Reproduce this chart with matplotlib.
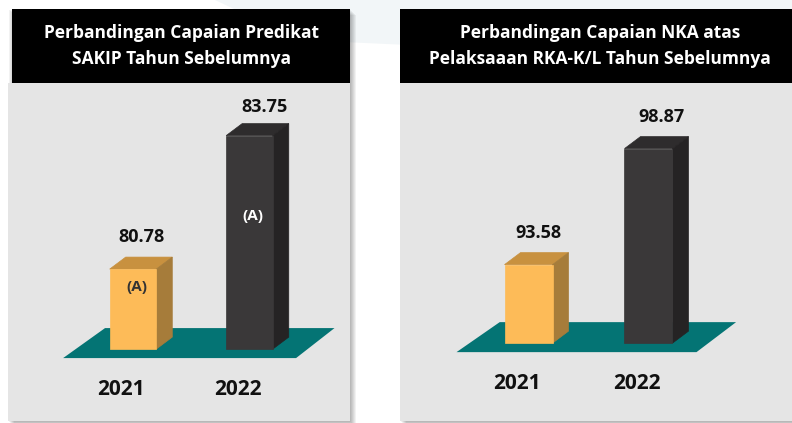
import numpy as np
import matplotlib.pyplot as plt
from matplotlib.patches import Polygon, Rectangle

plt.rcParams['font.family'] = ['Open Sans', 'DejaVu Sans']

years = ['2021', '2022']
sakip_scores = [80.78, 83.75]
sakip_grades = ['(A)', '(A)']
nka_scores = [93.58, 98.87]

W, H = 792, 423
front = ['#fdbb58', '#3a3839']
top_c = ['#c8913f', '#2e2c2d']
side_c = ['#a67c3a', '#252324']
floor_c = '#047474'
panel_c = '#e5e5e5'

fig = plt.figure(figsize=(W / 100, H / 100), dpi=100)
fig.patch.set_facecolor('white')

# faint backdrop shape at the top
fig.patches.append(Polygon([(215 / W, 1), (1, 1), (1, 1 - 45 / H), (560 / W, 1 - 52 / H),
                            (300 / W, 1 - 40 / H)], closed=True, transform=fig.transFigure,
                           facecolor='#f2f6f8', edgecolor='none', zorder=-3))


def fig_rect(x0, y0, x1, y1, **kw):
    r = Rectangle((x0 / W, 1 - y1 / H), (x1 - x0) / W, (y1 - y0) / H,
                  transform=fig.transFigure, **kw)
    fig.patches.append(r)
    return r


def draw_panel(box, bar_box, title, title_x, scores, grades=None, grade_offs=None,
               base=0, ylim=None, xlim=None, label_offs=None):
    x0, y0, x1, y1 = box
    # soft drop shadow
    for k in range(1, 7):
        fig_rect(x0 + k, bar_box[1] + k, x1 + k, y1 + k, facecolor='black',
                 alpha=0.05, edgecolor='none', zorder=-2)
    fig_rect(*bar_box, facecolor='black', edgecolor='none', zorder=2)
    fig.text(title_x / W, 1 - 46 / H, title, color='white', fontsize=12.5,
             fontweight='bold', ha='center', va='center', linespacing=1.5, zorder=3)

    ax = fig.add_axes([x0 / W, 1 - y1 / H, (x1 - x0) / W, (y1 - y0) / H])
    ax.set_facecolor(panel_c)
    ax.set_xlim(xlim)
    ax.set_ylim(ylim)
    ax.set_xticks([])
    ax.set_yticks([])
    for s in ax.spines.values():
        s.set_visible(False)

    def shift(pts, dx, dy):
        p = ax.transData.transform(np.array(pts, dtype=float))
        return ax.transData.inverted().transform(p + [dx, dy])

    x = np.arange(len(scores))
    vals = np.array(scores)
    w = 0.4

    # teal floor
    fb = shift([(-0.60, base), (1.40, base)], 0, -9)
    ft = shift([(1.73, base), (-0.24, base)], 0, 21)
    ax.add_patch(Polygon(np.vstack([fb, ft]), closed=True, facecolor=floor_c,
                         edgecolor='none', zorder=1))

    ax.bar(x, vals - base, bottom=base, width=w, color=front, edgecolor=front,
           linewidth=0.5, zorder=3)
    for i, (xi, v) in enumerate(zip(x, vals)):
        a, b = xi - w / 2, xi + w / 2
        topf = np.vstack([[(a, v), (b, v)], shift([(b, v), (a, v)], 16, 12)])
        sidef = np.vstack([[(b, base), (b, v)], shift([(b, v), (b, base)], 16, 12)])
        ax.add_patch(Polygon(topf, closed=True, facecolor=top_c[i], edgecolor=top_c[i],
                             linewidth=0.5, zorder=2))
        ax.add_patch(Polygon(sidef, closed=True, facecolor=side_c[i], edgecolor=side_c[i],
                             linewidth=0.5, zorder=2))
        ax.annotate(f'{v:.2f}', (xi, v), xytext=label_offs[i], textcoords='offset pixels',
                    ha='center', va='center', fontsize=13, fontweight='bold', color='#111111')
        ax.annotate(years[i], (xi, base), xytext=(-12, -40), textcoords='offset pixels',
                    ha='center', va='center', fontsize=15, fontweight='bold', color='#111111')
        if grades:
            ax.annotate(grades[i], (xi, v), xytext=grade_offs[i], textcoords='offset pixels',
                        ha='center', va='center', fontsize=11, fontweight='bold',
                        color='#333333' if i == 0 else 'white', zorder=5)
    return ax


draw_panel((8, 83, 350, 421), (12, 9, 350, 83),
           'Perbandingan Capaian Predikat\nSAKIP Tahun Sebelumnya', 181,
           sakip_scores, sakip_grades, [(4, -18), (3, -80)],
           base=79.0, ylim=(77.40, 84.92), xlim=(-1.073, 1.863),
           label_offs=[(9, 32), (15, 29)])

draw_panel((400, 83, 792, 421), (400, 9, 792, 83),
           'Perbandingan Capaian NKA atas\nPelaksaaan RKA-K/L Tahun Sebelumnya', 600,
           nka_scores, base=90.0, ylim=(86.45, 101.86), xlim=(-1.071, 2.196),
           label_offs=[(10, 32), (13, 32)])

fig.savefig('out.png', dpi=100, facecolor=fig.get_facecolor())
